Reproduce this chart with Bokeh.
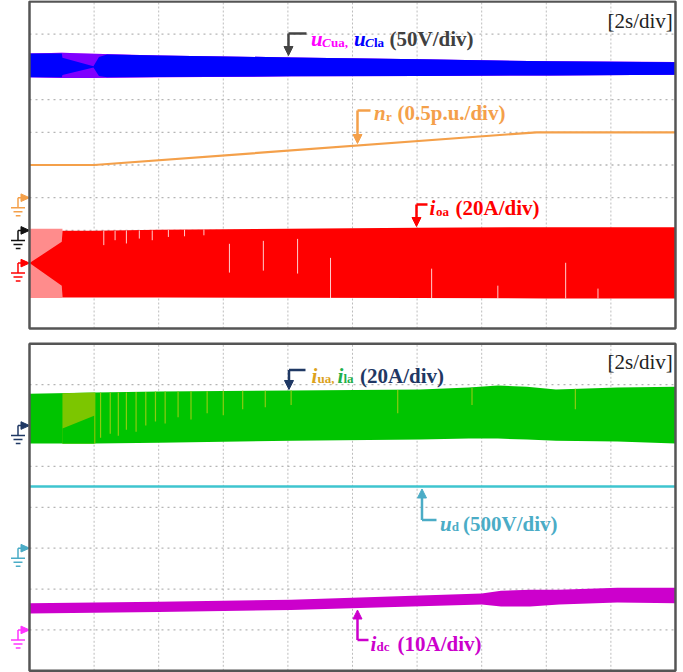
import numpy as np
from bokeh.plotting import figure
from bokeh.layouts import column
from bokeh.models import Range1d, Label, Arrow, NormalHead
from bokeh.embed import file_html
from bokeh.resources import INLINE

# ---------------- data (time in s, amplitude in scope divisions) ----------------
# top panel (10 vertical divisions)
ucua_t  = [0.0, 1.0, 2.0, 4.0, 8.1, 12.1, 16.1, 20.0]
ucua_hi = [8.41, 8.43, 8.40, 8.35, 8.29, 8.23, 8.17, 8.15]
ucua_lo = [7.68, 7.66, 7.66, 7.68, 7.71, 7.72, 7.74, 7.76]

ucla_t  = [0.0, 1.0, 1.02, 1.98, 2.15, 2.4, 4.0, 8.1, 12.1, 16.1, 20.0]
ucla_hi = [8.41, 8.41, 8.28, 8.02, 8.30, 8.38, 8.35, 8.29, 8.23, 8.17, 8.14]
ucla_lo = [7.68, 7.68, 7.75, 7.98, 7.72, 7.68, 7.69, 7.71, 7.72, 7.74, 7.76]

nr_t   = [0.0, 2.0, 15.7, 20.0]
nr_div = [5.0, 5.0, 6.0, 6.0]

ioa_pale_t  = [0.0, 1.02]
ioa_pale_hi = [3.05, 3.05]
ioa_pale_lo = [0.93, 0.93]

ioa_t  = [0.0, 1.0, 1.02, 2.0, 4.0, 8.0, 12.0, 16.0, 20.0]
ioa_hi = [2.0, 2.65, 2.99, 2.99, 3.02, 3.05, 3.08, 3.10, 3.10]
ioa_lo = [2.0, 1.31, 0.95, 0.95, 0.95, 0.94, 0.93, 0.92, 0.92]

# thin gaps seen inside the i_oa band
ioa_gap_t  = [2.3, 2.65, 3.0, 3.4, 3.8, 4.3, 4.8, 5.4, 6.19, 7.24, 8.3, 9.32, 12.45, 14.5, 16.6, 17.6]
ioa_gap_hi = [2.99, 2.99, 3.0, 3.0, 3.0, 3.02, 3.02, 3.03, 2.59, 2.68, 2.74, 2.16, 1.83, 1.31, 2.01, 1.22]
ioa_gap_lo = [2.55, 2.70, 2.60, 2.75, 2.70, 2.80, 2.82, 2.85, 1.71, 1.77, 1.68, 0.92, 0.92, 0.92, 0.92, 0.92]

top_gnd = {"nr": 4.0, "uc": 3.0, "ioa": 2.0}

# bottom panel (8 vertical divisions)
ila_t  = [0.0, 2.04, 4.0, 8.1, 12.1, 13.6, 14.5, 15.4, 16.3, 18.2, 20.0]
ila_hi = [6.78, 6.81, 6.83, 6.86, 6.88, 6.93, 6.98, 6.95, 6.88, 6.93, 6.95]
ila_lo = [5.56, 5.56, 5.58, 5.63, 5.66, 5.68, 5.68, 5.66, 5.63, 5.61, 5.56]

iua_t  = [1.02, 2.04]
iua_hi = [6.79, 6.81]
iua_lo = [5.56, 5.56]
ila_wedge_t  = [1.02, 2.0]
ila_wedge_hi = [5.93, 6.24]

# light i_ua streaks showing through the i_la band
iua_streak_t  = [2.2, 2.5, 2.75, 3.0, 3.3, 3.6, 3.9, 4.2, 4.6, 5.0, 5.5, 6.0, 6.6, 7.3, 8.1, 11.4, 13.7, 16.9]
iua_streak_hi = [6.80, 6.80, 6.81, 6.81, 6.82, 6.82, 6.83, 6.83, 6.83, 6.84, 6.84, 6.85, 6.85, 6.85, 6.86, 6.87, 6.92, 6.90]
iua_streak_lo = [5.70, 5.80, 5.75, 5.90, 5.85, 6.00, 6.10, 6.05, 6.20, 6.15, 6.30, 6.25, 6.40, 6.45, 6.50, 6.30, 6.50, 6.40]

ud_t = [0.0, 20.0]
ud   = [4.51, 4.51]

idc_t  = [0.0, 4.0, 8.1, 12.1, 14.0, 14.6, 15.5, 16.4, 18.2, 20.0]
idc_hi = [1.65, 1.69, 1.74, 1.84, 1.89, 1.96, 1.98, 1.98, 2.03, 2.03]
idc_lo = [1.40, 1.44, 1.49, 1.58, 1.62, 1.57, 1.57, 1.62, 1.67, 1.65]

bot_gnd = {"iu": 6.0, "ud": 3.0, "idc": 1.0}

# ---------------- helpers (reference-pixel placement of annotations) ----------------
def tx(px):
    return (px - 29.0) / 32.3

def ty_top(py):
    return (328.0 - py) / 32.7

def ty_bot(py):
    return (670.3 - py) / 40.875

def py_top(d):
    return 328.0 - 32.7 * d

def py_bot(d):
    return 670.3 - 40.875 * d

FONT = "Liberation Serif"
SUB = 13


def make_fig(h, y0, y1):
    p = figure(width=683, height=h, x_range=Range1d(-0.8978, 20.248),
               y_range=Range1d(y0, y1), output_backend="svg",
               toolbar_location=None, x_axis_location=None, y_axis_location=None,
               min_border=0)
    p.grid.visible = False
    p.outline_line_color = None
    p.background_fill_color = "white"
    p.border_fill_color = "white"
    return p


def grid(p, ndiv_y):
    gx = list(np.arange(1, 10) * 2.0)
    p.segment(x0=gx, y0=[0] * len(gx), x1=gx, y1=[ndiv_y] * len(gx),
              line_color="#bdbdbd", line_width=1, line_dash="2 2")
    gy = list(np.arange(1, ndiv_y))
    p.segment(x0=[0] * len(gy), y0=gy, x1=[20] * len(gy), y1=gy,
              line_color="#b5b5b5", line_width=1.3, line_dash="2 4")


def frame(p, ndiv_y):
    p.quad(left=[0], right=[20], bottom=[0], top=[ndiv_y], fill_color=None,
           line_color="#555555", line_width=2.5)


def ground(p, ypx, color, conv):
    xs = [[tx(17.5), tx(17.5)], [tx(17.5), tx(22)], [tx(10.5), tx(24.5)],
          [tx(13), tx(22)], [tx(15.3), tx(20)]]
    ys = [[conv(ypx), conv(ypx + 10)], [conv(ypx), conv(ypx)],
          [conv(ypx + 10)] * 2, [conv(ypx + 14)] * 2, [conv(ypx + 18)] * 2]
    p.multi_line(xs, ys, line_color=color, line_width=1.5)
    p.patch([tx(20.5), tx(29), tx(20.5)], [conv(ypx - 3.8), conv(ypx), conv(ypx + 3.8)],
            fill_color=color, line_color=color)


def txt(p, px, py, s, color, conv, size=21, style="bold"):
    p.add_layout(Label(x=tx(px), y=conv(py), text=s, text_color=color,
                       text_font=FONT, text_font_size=f"{size}px",
                       text_font_style=style, text_baseline="alphabetic",
                       text_align="left"))


def pointer(p, bend, tip, tail, color, conv):
    p.line([tx(tail[0]), tx(bend[0])], [conv(tail[1]), conv(bend[1])],
           line_color=color, line_width=2.5)
    p.add_layout(Arrow(x_start=tx(bend[0]), y_start=conv(bend[1]),
                       x_end=tx(tip[0]), y_end=conv(tip[1]),
                       line_color=color, line_width=2.5,
                       end=NormalHead(size=9, fill_color=color, line_color=color)))


# ---------------- top panel ----------------
p1 = make_fig(330, -0.061, 10.03)
grid(p1, 10)

p1.varea(x=ucua_t, y1=ucua_lo, y2=ucua_hi, fill_color="#ff00ff")
p1.varea(x=ucua_t, y1=ucua_lo, y2=ucua_hi, fill_color="#0000ff", fill_alpha=0.5)
p1.varea(x=ucla_t, y1=ucla_lo, y2=ucla_hi, fill_color="#0000ff")

p1.line(nr_t, nr_div, line_color="#f4a04a", line_width=2.2)

p1.varea(x=ioa_pale_t, y1=ioa_pale_lo, y2=ioa_pale_hi, fill_color="#ff8c8c")
p1.varea(x=ioa_t, y1=ioa_lo, y2=ioa_hi, fill_color="#ff0000")
p1.segment(x0=ioa_gap_t, y0=ioa_gap_lo, x1=ioa_gap_t, y1=ioa_gap_hi,
           line_color="#ffffff", line_width=1, line_alpha=0.8)

ground(p1, py_top(top_gnd["nr"]), "#f4a04a", ty_top)
ground(p1, py_top(top_gnd["uc"]), "#111111", ty_top)
ground(p1, py_top(top_gnd["ioa"]), "#ff0000", ty_top)

txt(p1, 607, 20.5, "[2s/div]", "#222222", ty_top, style="normal")

pointer(p1, (288, 33), (288, 55), (306, 33), "#444444", ty_top)
txt(p1, 310.5, 39, "u", "#ff00ff", ty_top, style="bold italic")
txt(p1, 321.5, 42, "C", "#ff00ff", ty_top, size=SUB, style="bold italic")
txt(p1, 330.5, 42, "ua,", "#ff00ff", ty_top, size=SUB)
txt(p1, 353.5, 39, "u", "#0000ff", ty_top, style="bold italic")
txt(p1, 364.5, 42, "C", "#0000ff", ty_top, size=SUB, style="bold italic")
txt(p1, 373.5, 42, "la", "#0000ff", ty_top, size=SUB)
txt(p1, 389, 39, "(50V/div)", "#404040", ty_top)

pointer(p1, (357, 110), (357, 143), (370, 110), "#f4a04a", ty_top)
txt(p1, 373.5, 113, "n", "#f4a04a", ty_top, style="bold italic")
txt(p1, 385.5, 116, "r", "#f4a04a", ty_top, size=SUB)
txt(p1, 397, 113, "(0.5p.u./div)", "#f4a04a", ty_top)

pointer(p1, (416, 204), (416, 226), (427, 204), "#ff0000", ty_top)
txt(p1, 429, 208, "i", "#ff0000", ty_top, style="bold italic")
txt(p1, 435.5, 211, "oa", "#ff0000", ty_top, size=SUB)
txt(p1, 455, 208, "(20A/div)", "#ff0000", ty_top)

frame(p1, 10)

# ---------------- bottom panel ----------------
p2 = make_fig(331, -0.0416, 8.056)
grid(p2, 8)

p2.varea(x=ila_t, y1=ila_lo, y2=ila_hi, fill_color="#00c400")
p2.varea(x=iua_t, y1=iua_lo, y2=iua_hi, fill_color="#7cc600")
p2.varea(x=ila_wedge_t, y1=iua_lo, y2=ila_wedge_hi, fill_color="#00c400")
p2.segment(x0=iua_streak_t, y0=iua_streak_lo, x1=iua_streak_t, y1=iua_streak_hi,
           line_color="#8ccc10", line_width=1.2)

p2.line(ud_t, ud, line_color="#3fc5cf", line_width=2.6)

p2.varea(x=idc_t, y1=idc_lo, y2=idc_hi, fill_color="#cc00cc")

ground(p2, py_bot(bot_gnd["iu"]), "#1f3864", ty_bot)
ground(p2, py_bot(bot_gnd["ud"]), "#4bacc6", ty_bot)
ground(p2, py_bot(bot_gnd["idc"]), "#ff33ff", ty_bot)

txt(p2, 607, 361.3, "[2s/div]", "#222222", ty_bot, style="normal")

pointer(p2, (288.5, 369.5), (288.5, 389), (305, 369.5), "#1f3864", ty_bot)
txt(p2, 311, 375.5, "i", "#dca21c", ty_bot, style="bold italic")
txt(p2, 317, 378.5, "ua,", "#dca21c", ty_bot, size=SUB)
txt(p2, 337, 375.5, "i", "#1fb04c", ty_bot, style="bold italic")
txt(p2, 343, 378.5, "la", "#1fb04c", ty_bot, size=SUB)
txt(p2, 359.5, 375.5, "(20A/div)", "#1f3864", ty_bot)

pointer(p2, (421.5, 519.5), (421.5, 488.5), (436, 519.5), "#4bacc6", ty_bot)
txt(p2, 439.5, 523.5, "u", "#4bacc6", ty_bot, style="bold italic")
txt(p2, 451.2, 526.5, "d", "#4bacc6", ty_bot, size=SUB)
txt(p2, 462.5, 523.5, "(500V/div)", "#4bacc6", ty_bot)

pointer(p2, (357, 639.5), (357, 609.5), (368, 639.5), "#cc00cc", ty_bot)
txt(p2, 370, 643.5, "i", "#cc00cc", ty_bot, style="bold italic")
txt(p2, 376, 646.5, "dc", "#cc00cc", ty_bot, size=SUB)
txt(p2, 397, 643.5, "(10A/div)", "#cc00cc", ty_bot)

frame(p2, 8)

layout = column(p1, p2, spacing=11)
open("out.html", "w").write(file_html(layout, INLINE))
